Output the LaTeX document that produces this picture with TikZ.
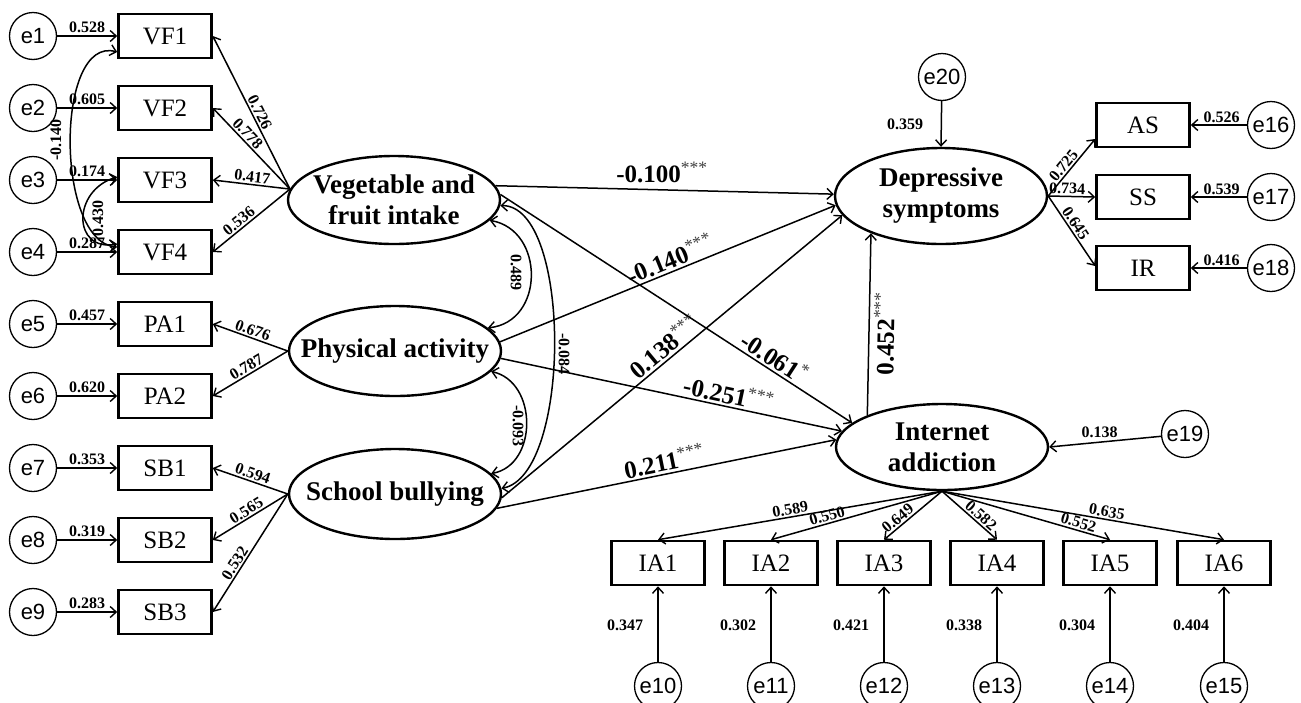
\documentclass[tikz,border=0pt]{standalone}
\usepackage{fontspec}
\setmainfont{Liberation Serif}
\newfontfamily\arialf{Liberation Sans}
\usetikzlibrary{arrows.meta,shapes.geometric}
\newcommand\sigst[1]{\textsuperscript{\mdseries\color{black!75}#1}}
\newcommand\zb[1]{\makebox[0pt]{#1}}
\begin{document}
\begin{tikzpicture}[x=1pt,y=-1pt,
  err/.style={circle,draw,line width=1.3pt,minimum size=47pt,inner sep=0pt,font=\arialf\fontsize{22}{22}\selectfont},
  obs/.style={rectangle,draw,line width=2.6pt,minimum width=93pt,minimum height=44pt,inner sep=0pt,font=\fontsize{25}{25}\selectfont},
  lat/.style={ellipse,draw,line width=2.4pt,minimum width=212pt,minimum height=88pt,inner sep=0pt,align=center,font=\bfseries\fontsize{27}{31}\selectfont},
  arr/.style={-{Straight Barb[length=6pt,width=11pt,line width=1.4pt]},line width=1.5pt},
  dbl/.style={{Straight Barb[length=6pt,width=11pt,line width=1.4pt]}-{Straight Barb[length=6pt,width=11pt,line width=1.4pt]},line width=1.5pt},
  coef/.style={font=\bfseries\fontsize{16}{16}\selectfont,inner sep=1.5pt},
  big/.style={font=\bfseries\fontsize{25}{25}\selectfont,inner sep=2pt}]
\useasboundingbox (0,0) rectangle (1301,702);
\fill[white] (0,0) rectangle (1301,702);

% left error terms and indicators
\foreach \n/\t/\y in {e1/VF1/36,e2/VF2/108,e3/VF3/180,e4/VF4/252,e5/PA1/324,e6/PA2/396,e7/SB1/468,e8/SB2/540,e9/SB3/612}{
  \node[err] (\n) at (33,\y) {\n};
  \node[obs] (\t) at (165,\y) {\t};
}
\foreach \n/\t/\v in {e1/VF1/0.528,e2/VF2/0.605,e3/VF3/0.174,e4/VF4/0.287,e5/PA1/0.457,e6/PA2/0.620,e7/SB1/0.353,e8/SB2/0.319,e9/SB3/0.283}{
  \draw[arr] (\n) -- (\t.west) node[coef,pos=0.5,above=1pt] {\v};
}

% latent variables
\node[lat] (veg) at (394,200) {\zb{Vegetable and}\\\zb{fruit intake}};
\node[lat,minimum height=90pt] (phys) at (395,351) {\zb{Physical activity}};
\node[lat,minimum height=90pt] (sch) at (395,494) {\zb{School bullying}};
\node[lat,minimum height=96pt] (dep) at (941,196) {\zb{Depressive}\\\zb{symptoms}};
\node[lat,minimum height=86pt] (int) at (942,447) {\zb{Internet}\\\zb{addiction}};

% loadings (left)
\draw[arr] (veg.174) -- (VF1.east) node[coef,sloped,pos=0.48,above] {0.726};
\draw[arr] (veg.174) -- (VF2.east) node[coef,sloped,pos=0.62,above] {0.778};
\draw[arr] (veg.174) -- (VF3.east) node[coef,sloped,pos=0.5,above] {0.417};
\draw[arr] (veg.174) -- (VF4.east) node[coef,sloped,pos=0.6,above] {0.536};
\draw[arr] (phys.west) -- (PA1.east) node[coef,sloped,pos=0.5,above] {0.676};
\draw[arr] (phys.west) -- (PA2.east) node[coef,sloped,pos=0.5,above] {0.787};
\draw[arr] (sch.west) -- (SB1.east) node[coef,sloped,pos=0.5,above] {0.594};
\draw[arr] (sch.west) -- (SB2.east) node[coef,sloped,pos=0.5,above] {0.565};
\draw[arr] (sch.west) -- (SB3.east) node[coef,sloped,pos=0.62,above] {0.532};

% left covariances
\draw[dbl] ([yshift=-16pt]VF1.west) .. controls (55,35) and (55,242) .. ([yshift=5pt]VF4.west);
\node[coef,rotate=90] (c140) at (56,140) {-0.140};
\draw[dbl] ([yshift=3pt]VF3.west) .. controls (72,190) and (72,252) .. ([yshift=8pt]VF4.west);
\node[coef,rotate=90] (c430) at (98,218) {0.430};

% latent covariances
\draw[dbl] (veg.-12) .. controls (545,230) and (545,322) .. (phys.14);
\node[coef,rotate=-90] (c489) at (516,272) {0.489};
\draw[dbl] (phys.-12) .. controls (538,382) and (538,465) .. (sch.12);
\node[coef,rotate=-90] (c093) at (518,426) {-0.093};
\draw[dbl] (veg.-3) .. controls (572,205) and (572,475) .. (sch.3);
\node[coef,rotate=-90] (c084) at (564,354) {-0.084};

% structural paths
\draw[arr] (veg.8) -- (dep.179);
\node[big] (p1) at (662,172) {-0.100\sigst{***}};
\draw[arr] (phys.5) -- (dep.185) node[big,sloped,pos=0.52,above] {-0.140\sigst{***}};
\draw[arr] (sch.-2) -- (dep.191) node[big,sloped,pos=0.5,above] {0.138\sigst{***}};
\draw[arr] (veg.3) -- (int.165) node[big,sloped,pos=0.76,above] {-0.061\sigst{*}};
\draw[arr] (phys.-4) -- (int.171) node[big,sloped,pos=0.66,above] {-0.251\sigst{***}};
\draw[arr] (sch.-8) -- (int.176) node[big,sloped,pos=0.5,above] {0.211\sigst{***}};
\draw[arr] (int.157) -- (dep.208) node[big,sloped,pos=0.45,below=2pt] {0.452\sigst{***}};

% depressive symptoms indicators
\node[err] (e20) at (942,77) {e20};
\draw[arr] (e20) -- (dep.north);
\node[coef] (l359) at (905,124) {0.359};
\foreach \n/\t/\y/\v in {e16/AS/125/0.526,e17/SS/197/0.539,e18/IR/268/0.416}{
  \node[obs] (\t) at (1143,\y) {\t};
  \node[err] (\n) at (1271,\y) {\n};
  \draw[arr] (\n) -- (\t.east) node[coef,pos=0.45,above=0pt] {\v};
}
\draw[arr] (dep.east) -- ([yshift=-14pt]AS.west) node[coef,sloped,pos=0.45,above] {0.725};
\draw[arr] (dep.east) -- (SS.west) node[coef,sloped,pos=0.4,above=0pt] {0.734};
\draw[arr] (dep.east) -- ([yshift=2pt]IR.west) node[coef,sloped,pos=0.45,above] {0.645};

% internet addiction
\node[err] (e19) at (1185,434) {e19};
\draw[arr] (e19) -- (int.east) node[coef,pos=0.55,above=2pt] {0.138};
\foreach \i/\x/\w in {1/658/0.347,2/771/0.302,3/884/0.421,4/997/0.338,5/1110/0.304,6/1224/0.404}{
  \node[obs] (IA\i) at (\x,563) {IA\i};
  \pgfmathtruncatemacro\en{9+\i}
  \node[err] (e\en) at (\x,686) {e\en};
  \draw[arr] (e\en) -- (IA\i.south);
  \node[coef] (lw\i) at (\x-33,625) {\w};
}
\draw[arr] (int.south) -- (IA1.north) node[coef,sloped,pos=0.53,above] {0.589};
\draw[arr] (int.south) -- (IA2.north) node[coef,sloped,pos=0.66,above] {0.550};
\draw[arr] (int.south) -- (IA3.north) node[coef,sloped,pos=0.68,above] {0.649};
\draw[arr] (int.south) -- (IA4.north) node[coef,sloped,pos=0.62,above] {0.582};
\draw[arr] (int.south) -- (IA5.north) node[coef,sloped,pos=0.8,above] {0.552};
\draw[arr] (int.south) -- (IA6.north) node[coef,sloped,pos=0.58,above] {0.635};
\end{tikzpicture}
\end{document}
